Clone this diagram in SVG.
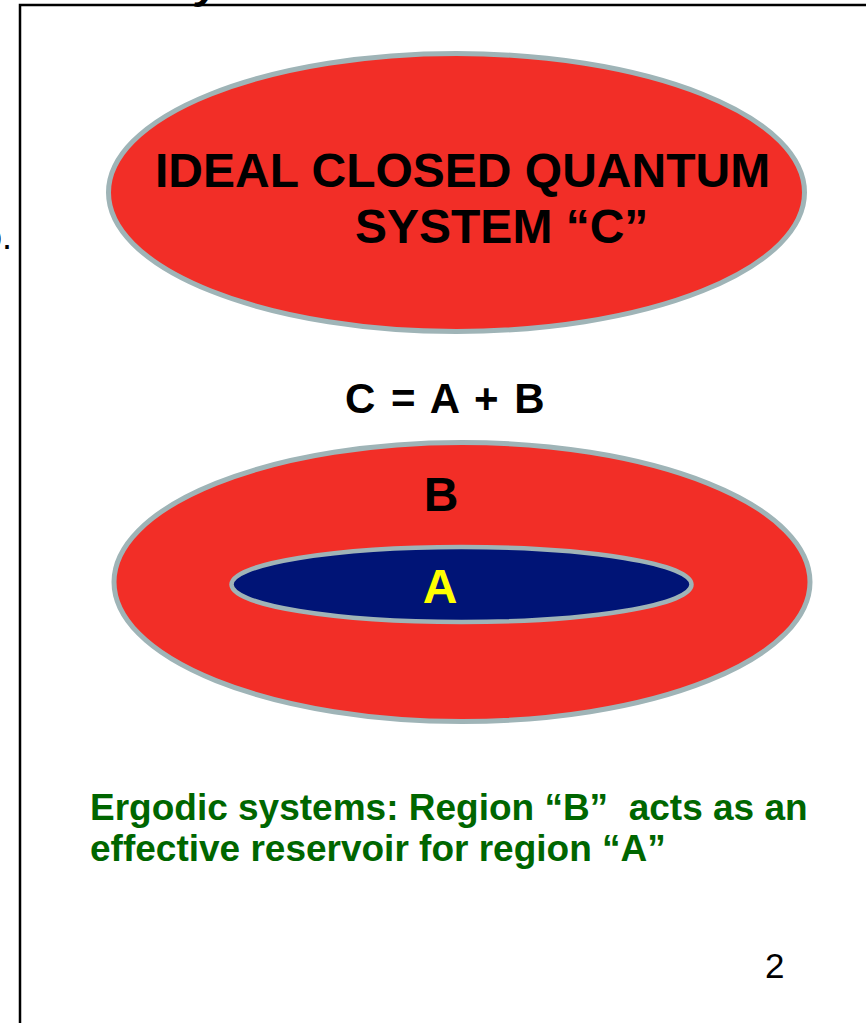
<svg xmlns="http://www.w3.org/2000/svg" width="866" height="1023" viewBox="0 0 866 1023">
<style>
.sys{fill:#f22e27;stroke:#9fb4b7;stroke-width:5}
.inner{fill:#001476;stroke:#9fb4b7;stroke-width:4.5}
.t{font-family:"Liberation Sans",Arial,sans-serif;font-weight:bold}
.frame{fill:none;stroke:#000;stroke-width:2.5}
</style>
<rect width="866" height="1023" fill="#fff"/>
<text class="t" x="196" y="-2" font-size="44" font-style="italic">y</text>
<text x="12" y="249" font-family="Liberation Sans,Arial,sans-serif" font-size="36" text-anchor="end" fill="#000">o.</text>
<path class="frame" d="M20,1023 V5 H866"/>
<g id="systemC">
<ellipse class="sys" cx="456.5" cy="192.5" rx="348" ry="139"/>
<text class="t" x="155" y="187" font-size="48" fill="#000">IDEAL CLOSED QUANTUM</text>
<text class="t" x="355" y="243" font-size="48" fill="#000">SYSTEM “C”</text>
</g>
<g id="equation">
<text class="t" x="345" y="413" font-size="42" fill="#000" word-spacing="4">C = A + B</text>
</g>
<g id="regionB">
<ellipse class="sys" cx="462" cy="582" rx="348" ry="139.5"/>
<text class="t" x="441" y="511" font-size="48" fill="#000" text-anchor="middle">B</text>
</g>
<g id="regionA">
<ellipse class="inner" cx="461.5" cy="584.5" rx="230" ry="37.5"/>
<text class="t" x="440" y="603" font-size="48" fill="#ffff00" text-anchor="middle">A</text>
</g>
<g id="connectors"></g>
<g id="caption">
<text class="t" x="90" y="820" font-size="37" fill="#006600" xml:space="preserve">Ergodic systems: Region “B”  acts as an</text>
<text class="t" x="90" y="861" font-size="37" fill="#006600">effective reservoir for region “A”</text>
</g>
<text x="765" y="978" font-family="Liberation Sans,Arial,sans-serif" font-size="35" fill="#000">2</text>
</svg>
